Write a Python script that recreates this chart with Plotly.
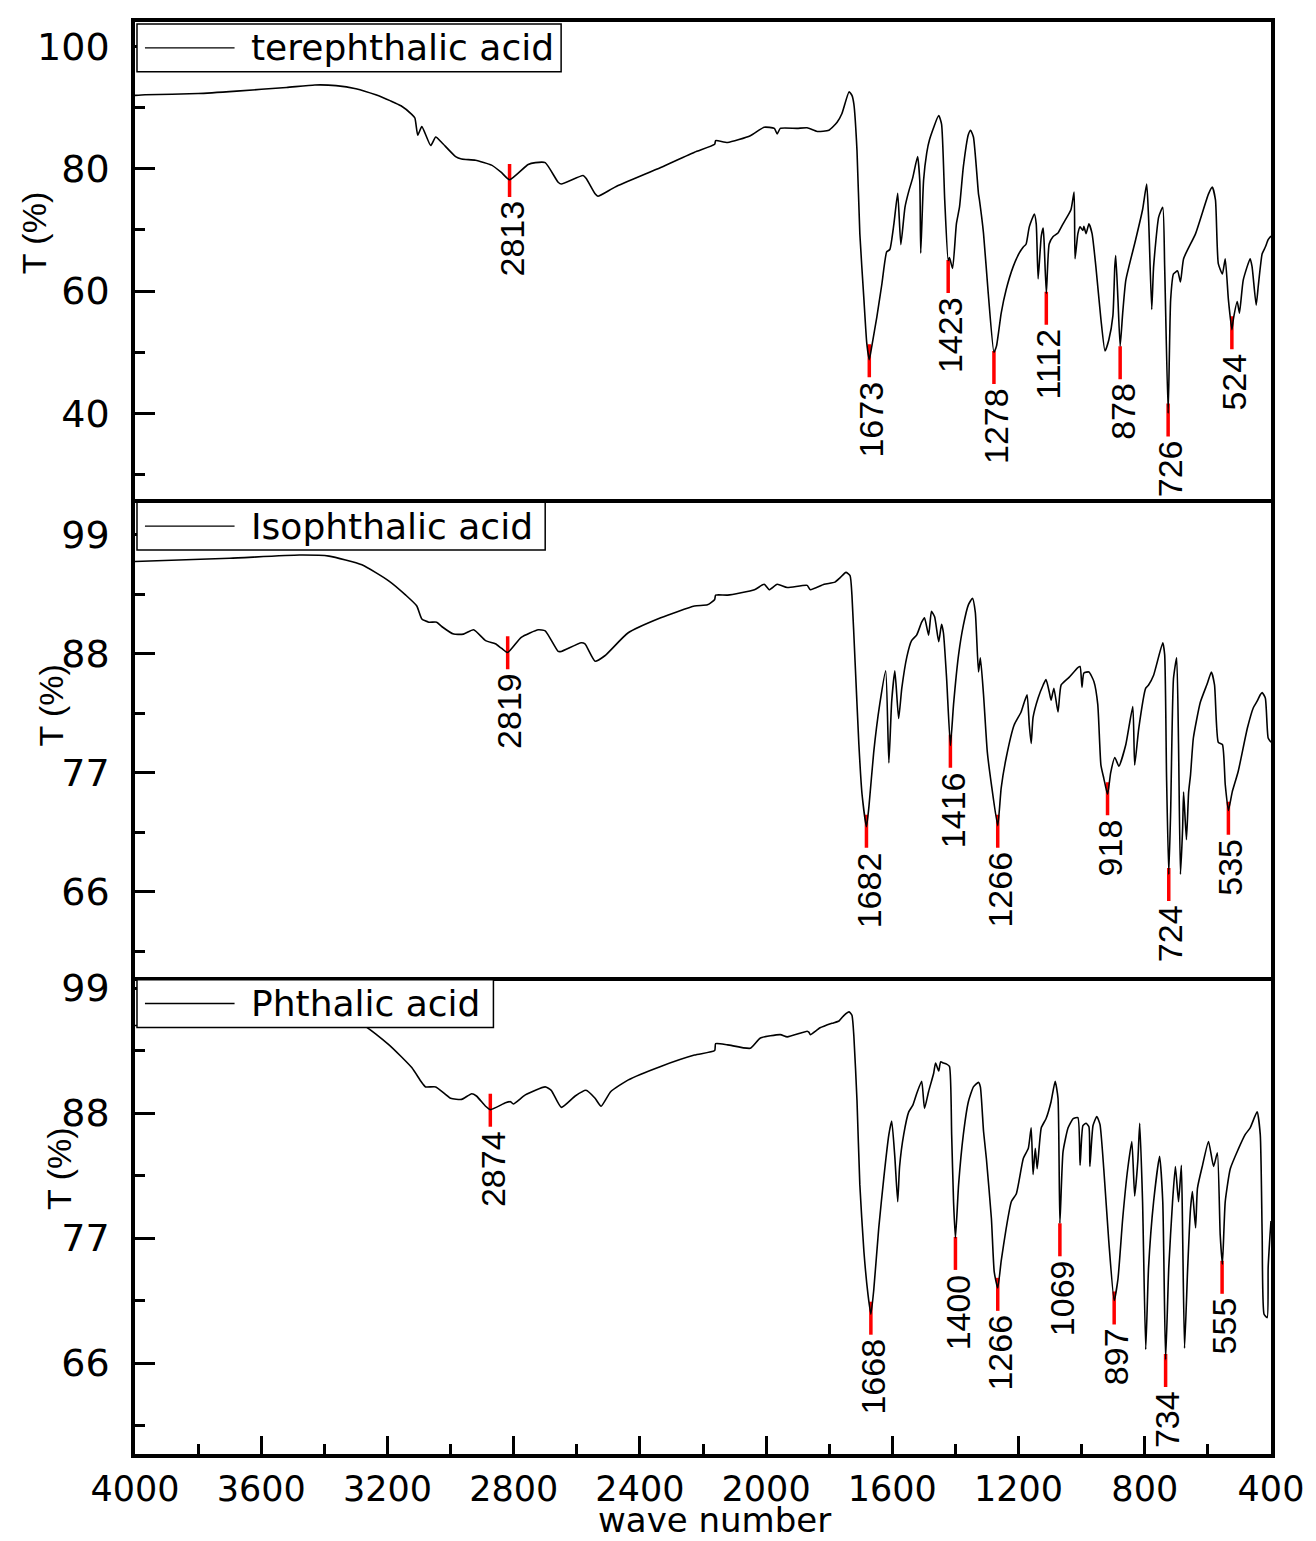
import plotly.graph_objects as go
from plotly.subplots import make_subplots

# ---------------- data (wavenumber cm-1, transmittance %) ----------------
terephthalic = [(4000, 92.0), (3968, 92.1), (3800, 92.3), (3678, 92.7), (3520, 93.3), (3430, 93.7), (3363, 93.6),
                (3300, 93.1), (3237, 92.1), (3190, 91.1), (3157, 90.3), (3123, 88.9), (3113, 88.3), (3104, 85.5),
                (3091, 86.9), (3063, 83.8), (3047, 85.2),
                (3028, 84.3), (2984, 82.0), (2965, 81.6), (2921, 81.4), (2870, 80.6), (2839, 79.4), (2813, 78.2),
                (2754, 80.7), (2731, 81.0), (2700, 81.0), (2659, 77.8), (2649, 77.5), (2580, 78.9), (2570, 78.4),
                (2542, 75.9), (2533, 75.5), (2479, 77.0), (2334, 80.2), (2227, 82.7), (2163, 84.0), (2160, 84.6),
                (2122, 84.3), (2050, 85.4), (2006, 86.8), (1974, 86.6), (1965, 85.7), (1955, 86.6), (1902, 86.6),
                (1870, 86.7), (1838, 86.1), (1801, 86.3), (1775, 87.6), (1760, 89.0), (1737, 92.6), (1728, 92.0),
                (1722, 90.6), (1712, 83.0), (1703, 69.4), (1690, 58.6), (1681, 51.5), (1673, 48.8), (1665, 51.0),
                (1649, 55.8), (1633, 61.2), (1618, 66.4), (1608, 66.8), (1595, 71.0), (1583, 76.0), (1573, 67.6),
                (1560, 73.7), (1548, 76.3), (1535, 78.6), (1520, 82.0), (1513, 78.0), (1510, 66.2), (1501, 78.1),
                (1491, 82.6), (1482, 84.8), (1453, 88.7), (1444, 87.3), (1434, 74.9), (1423, 65.0), (1419, 65.5),
                (1409, 63.7), (1397, 71.0), (1387, 73.8), (1375, 80.3), (1359, 85.6), (1352, 86.3), (1343, 85.2),
                (1327, 75.9), (1324, 74.9), (1311, 69.4), (1296, 59.6), (1278, 50.0), (1270, 51.0), (1255, 56.4),
                (1239, 60.3), (1217, 64.0), (1198, 66.2), (1185, 67.2), (1176, 67.7), (1166, 70.5), (1150, 72.6),
                (1144, 71.0), (1138, 62.0), (1128, 69.0), (1122, 70.3), (1119, 68.0), (1112, 59.6), (1103, 67.7),
                (1091, 68.9), (1075, 69.5), (1059, 71.0), (1034, 73.3), (1024, 76.2), (1021, 65.3), (1012, 69.4),
                (1005, 70.5), (996, 69.9), (993, 70.6), (986, 69.4), (977, 71.0), (967, 69.4), (955, 64.0),
                (939, 55.4), (926, 50.2), (914, 52.0), (901, 56.0), (895, 64.0), (892, 65.8), (885, 58.6),
                (878, 51.0), (870, 56.4), (860, 61.8), (829, 68.4), (807, 73.3), (794, 77.5), (788, 72.1),
                (778, 57.0), (772, 64.0), (756, 72.1), (743, 73.7), (737, 64.0), (726, 40.0), (718, 58.6),
                (709, 62.8), (696, 63.3), (687, 61.5), (677, 65.3), (639, 69.4), (598, 75.9), (586, 77.0),
                (576, 74.9), (567, 64.5), (554, 62.8), (545, 65.3), (535, 58.6), (524, 53.7), (519, 55.5),
                (507, 58.3), (500, 56.4), (488, 61.8), (466, 65.3), (460, 64.0), (447, 57.7), (440, 61.0),
                (428, 66.1), (418, 67.2), (409, 68.4), (400, 69.0)]

isophthalic = [(4000, 96.5), (3700, 96.8), (3479, 97.1), (3385, 97.0), (3281, 96.2), (3195, 94.7), (3142, 93.4),
               (3107, 92.4),
               (3091, 91.2), (3069, 90.9), (3044, 90.9), (3028, 90.5), (2990, 89.8), (2959, 89.8), (2927, 90.2),
               (2889, 89.2), (2858, 88.9), (2839, 88.5), (2819, 88.1), (2776, 89.5), (2722, 90.2), (2700, 90.1),
               (2659, 88.2), (2649, 88.2), (2586, 89.0), (2574, 88.9), (2542, 87.3), (2511, 87.8), (2438, 89.9),
               (2334, 91.3), (2227, 92.4), (2186, 92.5), (2163, 93.0), (2160, 93.4), (2122, 93.4), (2037, 93.9),
               (2006, 94.4), (1990, 93.9), (1965, 94.4), (1933, 94.1), (1870, 94.3), (1860, 93.9), (1816, 94.4),
               (1782, 94.6), (1766, 95.0), (1747, 95.5), (1734, 95.2), (1728, 93.4), (1718, 87.2), (1706, 79.6),
               (1696, 75.0), (1682, 72.0), (1674, 73.9), (1659, 78.9), (1640, 83.3), (1621, 86.4), (1611, 77.9),
               (1602, 83.6), (1592, 86.4), (1580, 82.0), (1570, 84.8), (1554, 87.7), (1539, 89.2), (1523, 89.7),
               (1507, 90.9), (1498, 91.3), (1485, 89.7), (1476, 91.9), (1466, 91.4), (1453, 89.1), (1444, 90.7),
               (1438, 89.9), (1428, 85.7), (1416, 79.5), (1406, 83.3), (1390, 87.9), (1375, 90.6), (1359, 92.5),
               (1346, 93.1), (1337, 91.8), (1327, 86.3), (1321, 87.6), (1311, 84.2), (1299, 78.9), (1286, 75.9),
               (1266, 72.1), (1255, 75.6), (1239, 78.4), (1214, 81.4), (1192, 82.6), (1182, 83.5), (1173, 84.2),
               (1166, 81.4), (1160, 79.7), (1154, 82.1), (1138, 83.9), (1122, 85.1), (1113, 85.6), (1103, 84.5),
               (1097, 83.7), (1088, 84.8), (1075, 82.6), (1065, 85.1), (1040, 85.8), (1012, 86.7), (1005, 86.8),
               (999, 84.9), (993, 86.2), (977, 86.3), (961, 85.4), (949, 83.3), (939, 77.7), (930, 76.5),
               (918, 75.0), (908, 77.0), (895, 78.4), (882, 77.6), (860, 79.6), (838, 83.1), (832, 77.7),
               (819, 81.1), (797, 84.8), (788, 85.1), (772, 86.0), (743, 89.0), (737, 87.9), (731, 76.6),
               (724, 67.6), (718, 73.4), (709, 85.7), (699, 87.6), (693, 79.6), (687, 67.6), (680, 71.9),
               (677, 75.2), (668, 70.8), (661, 75.2), (655, 76.8), (646, 80.2), (624, 83.5), (601, 85.3),
               (589, 86.3), (579, 85.1), (567, 79.8), (554, 79.6), (545, 75.9), (535, 73.5), (523, 75.2),
               (504, 77.1), (475, 81.1), (456, 83.0), (444, 83.6), (434, 84.2), (428, 84.4), (418, 83.9),
               (409, 80.2), (400, 79.8)]

phthalic = [(4000, 95.7), (3353, 95.8), (3281, 95.8), (3195, 94.0), (3123, 92.0), (3094, 90.8), (3079, 90.3),
            (3047, 90.3), (3000, 89.3), (2965, 89.2), (2933, 89.7), (2918, 89.5), (2889, 88.6), (2874, 88.3),
            (2826, 88.9), (2810, 89.0), (2801, 88.8), (2763, 89.6), (2700, 90.3), (2681, 90.0), (2649, 88.5),
            (2605, 89.5), (2571, 90.0), (2542, 89.3), (2523, 88.6), (2492, 89.9), (2438, 90.9), (2334, 92.1),
            (2227, 93.1), (2163, 93.5), (2160, 94.1), (2122, 94.0), (2050, 93.7), (2018, 94.6), (1955, 94.9),
            (1933, 94.7), (1870, 95.2), (1864, 95.1), (1860, 94.9), (1829, 95.5), (1791, 95.9), (1769, 96.1),
            (1753, 96.6), (1737, 96.9), (1728, 96.6), (1722, 94.8), (1712, 89.1), (1703, 81.7), (1690, 75.8),
            (1677, 72.0), (1668, 70.3), (1659, 72.4), (1643, 77.9), (1627, 82.3), (1611, 86.1), (1602, 87.3),
            (1592, 84.1), (1583, 80.2), (1577, 83.3), (1564, 86.1), (1548, 88.1), (1535, 88.7), (1523, 89.7),
            (1507, 90.8), (1498, 88.4), (1485, 89.9), (1469, 91.5), (1463, 92.4), (1453, 91.7), (1447, 92.5),
            (1438, 92.4), (1428, 92.3), (1419, 92.1), (1412, 86.1), (1406, 80.2), (1400, 77.0), (1390, 81.7),
            (1375, 86.1), (1359, 89.0), (1343, 90.3), (1327, 90.7), (1321, 90.3), (1311, 86.4), (1302, 84.0),
            (1286, 78.7), (1277, 74.0), (1266, 72.6), (1255, 75.0), (1239, 77.9), (1223, 80.2), (1207, 80.9),
            (1185, 84.0), (1169, 84.9), (1160, 86.7), (1154, 82.6), (1147, 84.9), (1141, 83.1), (1128, 86.7),
            (1113, 87.5), (1097, 89.0), (1084, 90.8), (1075, 89.3), (1069, 78.3), (1059, 84.6), (1043, 86.7),
            (1027, 87.5), (1012, 87.6), (1005, 83.4), (996, 86.9), (986, 87.1), (977, 86.8), (974, 83.3),
            (964, 86.9), (952, 87.7), (942, 87.0), (930, 83.1), (914, 76.7), (897, 71.5), (885, 73.4),
            (870, 78.7), (854, 83.1), (841, 85.5), (832, 80.7), (822, 83.8), (816, 87.1), (807, 80.2),
            (797, 67.2), (788, 74.4), (772, 80.2), (753, 84.2), (743, 80.2), (734, 66.3), (724, 74.4),
            (712, 80.2), (703, 83.3), (693, 80.2), (684, 83.4), (680, 77.3), (674, 67.3), (664, 74.4),
            (655, 79.6), (649, 81.1), (639, 77.9), (633, 81.4), (617, 83.4), (598, 85.5), (582, 83.3),
            (570, 84.5), (561, 77.3), (554, 74.7), (545, 80.2), (529, 83.1), (504, 84.8), (482, 86.1),
            (466, 86.7), (444, 88.1), (434, 86.1), (428, 77.3), (422, 70.3), (412, 70.0), (409, 74.4),
            (403, 77.3), (400, 78.5)]

series_names = ["terephthalic acid", "Isophthalic acid", "Phthalic acid"]

# labelled bands: wavenumber and transmittance at the top of the red marker
peaks_tere_wn = [2813, 1673, 1423, 1278, 1112, 878, 726, 524]
peaks_tere_T = [80.8, 51.3, 65.1, 50.2, 59.9, 51.0, 41.6, 55.9]
peaks_iso_wn = [2819, 1682, 1416, 1266, 918, 724, 535]
peaks_iso_T = [89.6, 73.1, 80.5, 73.1, 76.1, 68.2, 74.3]
peaks_pht_wn = [2874, 1668, 1400, 1266, 1069, 897, 734, 555]
peaks_pht_T = [89.7, 71.4, 77.1, 73.5, 78.3, 72.3, 66.8, 75.0]

x_tickvals = [4000, 3600, 3200, 2800, 2400, 2000, 1600, 1200, 800, 400]

# ---------------- figure ----------------
W, H = 1316, 1541
ML, MR, MT, MB = 135, 40, 14, 87
PW, PH = W - ML - MR, H - MT - MB


def px(x):
    return (x - ML) / PW


def py(y):
    return (H - MB - y) / PH


HFONT = "DejaVu Sans"
RFONT = "Liberation Sans, Arial"

fig = make_subplots(rows=3, cols=1, shared_xaxes=True, vertical_spacing=0)

spectra = [terephthalic, isophthalic, phthalic]
peaks = [(peaks_tere_wn, peaks_tere_T), (peaks_iso_wn, peaks_iso_T), (peaks_pht_wn, peaks_pht_T)]

for i, (spec, name) in enumerate(zip(spectra, series_names), start=1):
    wn = [p[0] for p in spec]
    tr = [p[1] for p in spec]
    fig.add_trace(go.Scatter(x=wn, y=tr, mode="lines", name=name, showlegend=False,
                             line=dict(color="black", width=1.6, shape="spline", smoothing=0.5)),
                  row=i, col=1)

for i, (pw, pt) in enumerate(peaks, start=1):
    xr = "x" if i == 1 else f"x{i}"
    yr = "y" if i == 1 else f"y{i}"
    for w, t in zip(pw, pt):
        fig.add_shape(type="line", xref=xr, yref=yr, x0=w, x1=w, ysizemode="pixel", yanchor=t,
                      y0=0, y1=-33, line=dict(color="#ff0000", width=3.5), layer="below")
        fig.add_annotation(x=w, y=t, xref=xr, yref=yr, text=str(w), textangle=-90, showarrow=False,
                           xanchor="center", yanchor="top", yshift=-35, xshift=2,
                           font=dict(family=RFONT, size=34, color="black"))

# axes: only the top panel mirrors its x line on top, so panel borders are single lines
for i in range(1, 4):
    fig.update_xaxes(range=[4000, 400], showline=True, linecolor="black", linewidth=3.5,
                     mirror=(i == 1), showgrid=False, zeroline=False, row=i, col=1)
fig.update_xaxes(ticks="", showticklabels=False, row=1, col=1)
fig.update_xaxes(ticks="", showticklabels=False, row=2, col=1)
fig.update_xaxes(ticks="inside", ticklen=18, tickwidth=3, tickcolor="black", tickmode="array",
                 tickvals=x_tickvals, ticklabelstandoff=1,
                 tickfont=dict(family=HFONT, size=35, color="black"),
                 minor=dict(ticks="inside", ticklen=10, tickwidth=3, tickcolor="black", dtick=200, tick0=0),
                 row=3, col=1)

yranges = [[25.95, 104.0], [58.15, 102.25], [58.0, 100.0]]
ydticks = [20, 11, 11]
for i in range(1, 4):
    fig.update_yaxes(range=yranges[i - 1], dtick=ydticks[i - 1], tick0=0, showline=True, linecolor="black",
                     linewidth=3.5, mirror=True, showgrid=False, zeroline=False,
                     ticks="inside", ticklen=20, tickwidth=3, tickcolor="black", ticklabelstandoff=14,
                     tickfont=dict(family=HFONT, size=38, color="black"),
                     minor=dict(ticks="inside", ticklen=10, tickwidth=3, tickcolor="black",
                                dtick=ydticks[i - 1] / 2, tick0=0),
                     row=i, col=1)

# y titles (T (%)) positioned as in the original
for (cx, cy) in [(33, 226), (51, 701), (58, 1167)]:
    fig.add_annotation(x=px(cx), y=py(cy), xref="paper", yref="paper", text="T (%)", textangle=-90,
                       showarrow=False, xanchor="center", yanchor="middle",
                       font=dict(family=RFONT, size=34, color="black"))

# x title, sitting on the bottom edge of the figure
fig.add_annotation(x=px(717), y=py(H), xref="paper", yref="paper", text="wave number", showarrow=False,
                   xanchor="center", yanchor="bottom", yshift=0, borderpad=0,
                   font=dict(family=HFONT, size=34, color="black"))

# legend boxes
legend_boxes = [(137, 563, 16, 64), (137, 547, 497, 545), (137, 495, 977, 1025)]
for name, (x0, x1, y0, y1) in zip(series_names, legend_boxes):
    yc = (y0 + y1) / 2
    fig.add_shape(type="rect", xref="paper", yref="paper", x0=px(x0), x1=px(x1), y0=py(y1), y1=py(y0),
                  line=dict(color="black", width=1.5), fillcolor="white", layer="above")
    fig.add_shape(type="line", xref="paper", yref="paper", x0=px(145), x1=px(235), y0=py(yc), y1=py(yc),
                  line=dict(color="black", width=1.3), layer="above")
    fig.add_annotation(x=px(250), y=py(yc), xref="paper", yref="paper", text=name, showarrow=False,
                       xanchor="left", yanchor="middle", font=dict(family=HFONT, size=36, color="black"))

fig.update_layout(width=W, height=H, margin=dict(l=ML, r=MR, t=MT, b=MB, pad=0),
                  paper_bgcolor="white", plot_bgcolor="white", showlegend=False)

fig.write_html("out.html", config={"displayModeBar": False},
               post_script="document.body.style.margin='0';document.body.style.overflow='hidden';")
